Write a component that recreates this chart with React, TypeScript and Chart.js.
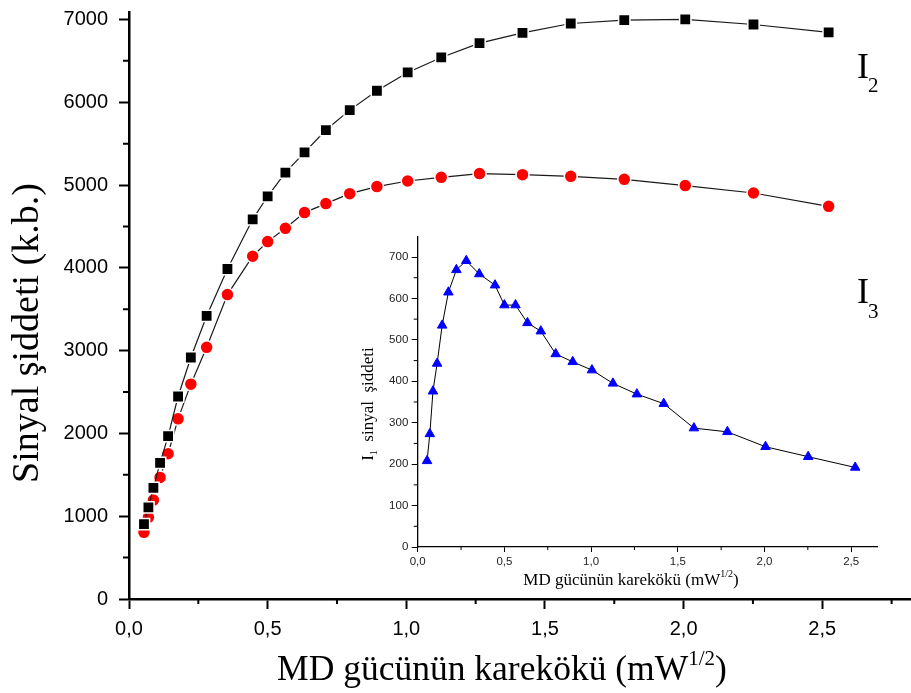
import React, { useEffect, useRef } from "react";
import { Chart, registerables } from "chart.js";
Chart.register(...registerables);

// ---- data ----
const sqrtPower = [0.054, 0.07, 0.088, 0.112, 0.141, 0.177, 0.223, 0.28, 0.355, 0.446, 0.5, 0.564, 0.633, 0.71, 0.796, 0.894, 1.005, 1.126, 1.264, 1.419, 1.593, 1.786, 2.006, 2.252, 2.523];
const signalI2 = [905, 1106, 1343, 1645, 1967, 2446, 2917, 3419, 3986, 4586, 4864, 5150, 5395, 5664, 5905, 6139, 6360, 6541, 6714, 6837, 6951, 6991, 7000, 6939, 6843];
const signalI3 = [805, 986, 1195, 1469, 1754, 2176, 2595, 3040, 3677, 4140, 4317, 4477, 4667, 4776, 4896, 4981, 5049, 5093, 5138, 5125, 5105, 5069, 4993, 4904, 4743];
const signalI1 = [208, 273, 376, 443, 535, 615, 669, 691, 659, 632, 584, 584, 541, 521, 466, 447, 427, 395, 369, 346, 287, 278, 242, 218, 192];

const mainXTicks = [0, 0.5, 1.0, 1.5, 2.0, 2.5];
const mainXMinor = [0.25, 0.75, 1.25, 1.75, 2.25, 2.75];
const mainYTicks = [0, 1000, 2000, 3000, 4000, 5000, 6000, 7000];
const mainYMinor = [500, 1500, 2500, 3500, 4500, 5500, 6500];
const insetXTicks = [0, 0.5, 1.0, 1.5, 2.0, 2.5];
const insetXMinor = [0.25, 0.75, 1.25, 1.75, 2.25];
const insetYTicks = [0, 100, 200, 300, 400, 500, 600, 700];
const insetYMinor = [50, 150, 250, 350, 450, 550, 650];

const SERIF = '"Liberation Serif", "Times New Roman", serif';
const SANS = '"Liberation Sans", Arial, sans-serif';

type Run = { t: string; size: number; dy: number };

function drawRuns(ctx: CanvasRenderingContext2D, runs: Run[], cx: number, baseY: number) {
  let total = 0;
  const widths = runs.map((r) => {
    ctx.font = `${r.size}px ${SERIF}`;
    const w = ctx.measureText(r.t).width;
    total += w;
    return w;
  });
  let x = cx - total / 2;
  ctx.textAlign = "left";
  ctx.textBaseline = "alphabetic";
  runs.forEach((r, i) => {
    ctx.font = `${r.size}px ${SERIF}`;
    ctx.fillText(r.t, x, baseY + r.dy);
    x += widths[i];
  });
}

function minorTicks(xMinor: number[], yMinor: number[], lenX: number, lenY: number, width: number) {
  return {
    id: "minorTicks",
    afterDraw(chart: any) {
      const { ctx, chartArea } = chart;
      const x = chart.scales.x;
      const y = chart.scales.y;
      ctx.save();
      ctx.strokeStyle = "#000";
      ctx.lineWidth = width;
      ctx.beginPath();
      xMinor.forEach((v) => {
        const px = x.getPixelForValue(v);
        ctx.moveTo(px, chartArea.bottom);
        ctx.lineTo(px, chartArea.bottom + lenX);
      });
      yMinor.forEach((v) => {
        const py = y.getPixelForValue(v);
        ctx.moveTo(chartArea.left, py);
        ctx.lineTo(chartArea.left - lenY, py);
      });
      ctx.stroke();
      ctx.restore();
    },
  };
}

const zeroPad = (s: any) => {
  s.paddingTop = 0;
  s.paddingBottom = 0;
  s.paddingLeft = 0;
  s.paddingRight = 0;
};

const fmt = (v: any) => Number(v).toFixed(1).replace(".", ",");

export default function App() {
  const mainRef = useRef<HTMLCanvasElement>(null);
  const insetRef = useRef<HTMLCanvasElement>(null);

  useEffect(() => {
    document.body.style.margin = "0";
    const mainTextPlugin = {
      id: "mainText",
      afterDraw(chart: any) {
        const ctx = chart.ctx as CanvasRenderingContext2D;
        ctx.save();
        ctx.fillStyle = "#000";
        // y title
        ctx.save();
        ctx.translate(38, 333);
        ctx.rotate(-Math.PI / 2);
        drawRuns(ctx, [{ t: "Sinyal şiddeti (k.b.)", size: 38, dy: 0 }], 0, 0);
        ctx.restore();
        // x title
        drawRuns(
          ctx,
          [
            { t: "MD gücünün karekökü (mW", size: 35.5, dy: 0 },
            { t: "1/2", size: 21, dy: -15 },
            { t: ")", size: 35.5, dy: 0 },
          ],
          502,
          680
        );
        // curve labels
        ctx.textAlign = "left";
        ctx.textBaseline = "alphabetic";
        ctx.font = `36px ${SERIF}`;
        ctx.fillText("I", 857, 78);
        ctx.fillText("I", 857, 303);
        ctx.font = `21px ${SERIF}`;
        ctx.fillText("2", 868, 92);
        ctx.fillText("3", 868, 318);
        ctx.restore();
      },
    };

    const main = new Chart(mainRef.current!, {
      type: "line",
      data: {
        datasets: [
          {
            label: "I2",
            data: sqrtPower.map((x, i) => ({ x, y: signalI2[i] })),
            borderColor: "#1a1a1a",
            borderWidth: 1.2,
            pointStyle: "rect",
            pointRadius: 8,
            pointBackgroundColor: "#000",
            pointBorderColor: "#fff",
            pointBorderWidth: 1.5,
            tension: 0,
          },
          {
            label: "I3",
            data: sqrtPower.map((x, i) => ({ x, y: signalI3[i] })),
            borderColor: "#1a1a1a",
            borderWidth: 1.2,
            pointStyle: "circle",
            pointRadius: 6.5,
            pointBackgroundColor: "#ff0000",
            pointBorderColor: "#fff",
            pointBorderWidth: 1.5,
            tension: 0,
          },
        ],
      },
      options: {
        responsive: false,
        animation: false,
        layout: { autoPadding: false, padding: { top: 12, right: 0, left: 0, bottom: 0 } },
        plugins: { legend: { display: false }, tooltip: { enabled: false } },
        scales: {
          x: {
            type: "linear",
            min: 0,
            max: 2.82,
            afterBuildTicks: (s: any) => {
              s.ticks = mainXTicks.map((v) => ({ value: v }));
            },
            afterFit: (s: any) => {
              s.height = 94;
              zeroPad(s);
            },
            grid: { drawOnChartArea: false, drawTicks: true, tickLength: 10, tickWidth: 2, tickColor: "#000", color: "#000" },
            border: { display: true, width: 2.5, color: "#000" },
            ticks: { autoSkip: false, maxRotation: 0, padding: 8, color: "#000", font: { family: SANS, size: 20 }, callback: fmt },
          },
          y: {
            type: "linear",
            min: 0,
            max: 7090,
            afterBuildTicks: (s: any) => {
              s.ticks = mainYTicks.map((v) => ({ value: v }));
            },
            afterFit: (s: any) => {
              s.width = 129;
              zeroPad(s);
            },
            grid: { drawOnChartArea: false, drawTicks: true, tickLength: 10, tickWidth: 2, tickColor: "#000", color: "#000" },
            border: { display: true, width: 2.5, color: "#000" },
            ticks: { autoSkip: false, padding: 11, color: "#000", font: { family: SANS, size: 20 }, callback: (v: any) => String(v) },
          },
        },
      },
      plugins: [minorTicks(mainXMinor, mainYMinor, 5, 6, 2), mainTextPlugin],
    } as any);

    const insetTextPlugin = {
      id: "insetText",
      afterDraw(chart: any) {
        const ctx = chart.ctx as CanvasRenderingContext2D;
        ctx.save();
        ctx.fillStyle = "#000";
        drawRuns(
          ctx,
          [
            { t: "MD gücünün karekökü (mW", size: 17, dy: 0 },
            { t: "1/2", size: 10, dy: -8 },
            { t: ")", size: 17, dy: 0 },
          ],
          276,
          360
        );
        ctx.save();
        ctx.translate(18, 179);
        ctx.rotate(-Math.PI / 2);
        drawRuns(
          ctx,
          [
            { t: "I", size: 17, dy: 0 },
            { t: "1", size: 10, dy: 4 },
            { t: "  sinyal  şiddeti", size: 17, dy: 0 },
          ],
          0,
          0
        );
        ctx.restore();
        ctx.restore();
      },
    };

    const inset = new Chart(insetRef.current!, {
      type: "line",
      data: {
        datasets: [
          {
            label: "I1",
            data: sqrtPower.map((x, i) => ({ x, y: signalI1[i] })),
            borderColor: "#000",
            borderWidth: 1,
            pointStyle: "triangle",
            pointRadius: 5.5,
            pointBackgroundColor: "#0000ff",
            pointBorderColor: "#0000ff",
            pointBorderWidth: 1,
            tension: 0,
          },
        ],
      },
      options: {
        responsive: false,
        animation: false,
        layout: { autoPadding: false, padding: { top: 11.3, right: 17.8, left: 0, bottom: 0 } },
        plugins: { legend: { display: false }, tooltip: { enabled: false } },
        scales: {
          x: {
            type: "linear",
            min: 0,
            max: 2.65,
            afterBuildTicks: (s: any) => {
              s.ticks = insetXTicks.map((v) => ({ value: v }));
            },
            afterFit: (s: any) => {
              s.height = 53;
              zeroPad(s);
            },
            grid: { drawOnChartArea: false, drawTicks: true, tickLength: 5, tickWidth: 1, tickColor: "#000", color: "#000" },
            border: { display: true, width: 1.3, color: "#000" },
            ticks: { autoSkip: false, maxRotation: 0, padding: 3, color: "#222", font: { family: SANS, size: 11.5 }, callback: fmt },
          },
          y: {
            type: "linear",
            min: 0,
            max: 750,
            afterBuildTicks: (s: any) => {
              s.ticks = insetYTicks.map((v) => ({ value: v }));
            },
            afterFit: (s: any) => {
              s.width = 62.7;
              zeroPad(s);
            },
            grid: { drawOnChartArea: false, drawTicks: true, tickLength: 6, tickWidth: 1, tickColor: "#000", color: "#000" },
            border: { display: true, width: 1.3, color: "#000" },
            ticks: { autoSkip: false, padding: 3.4, color: "#222", font: { family: SANS, size: 11.5 }, callback: (v: any) => String(v) },
          },
        },
      },
      plugins: [minorTicks(insetXMinor, insetYMinor, 3, 4, 1), insetTextPlugin],
    } as any);

    return () => {
      main.destroy();
      inset.destroy();
    };
  }, []);

  return (
    <div style={{ position: "relative", width: 911, height: 693, background: "#fff" }}>
      <canvas ref={mainRef} width={911} height={693} style={{ display: "block", position: "absolute", left: 0, top: 0 }} />
      <canvas ref={insetRef} width={540} height={375} style={{ display: "block", position: "absolute", left: 355, top: 225 }} />
    </div>
  );
}
